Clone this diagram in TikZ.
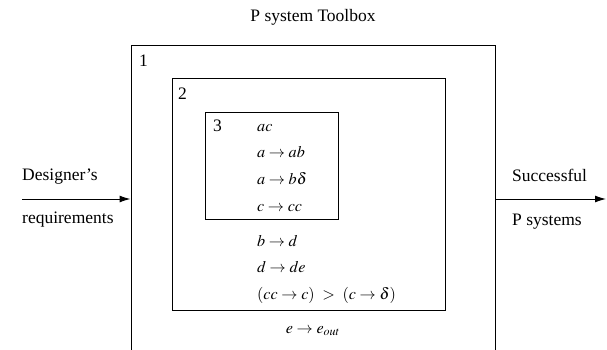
\documentclass[tikz,border=0pt]{standalone}
\usepackage{mathptmx}
\usepackage{fontspec}
\setmainfont{Liberation Serif}
\usetikzlibrary{arrows.meta}
\begin{document}
\begin{tikzpicture}[x=1pt,y=-1pt,
  txt/.style={font=\fontsize{17.5}{21}\selectfont, inner sep=0pt},
  mth/.style={font=\fontsize{16.2}{20}\selectfont, inner sep=0pt},
  boxn/.style={draw, line width=0.9pt, inner sep=0pt},
  flow/.style={line width=1pt, -{Latex[length=11pt,width=7pt]}}]
\clip (0,0) rectangle (607,349);
% boxes
\node[boxn, minimum width=364pt, minimum height=308pt] (box1) at (313,199) {};
\node[boxn, minimum width=273pt, minimum height=232pt] (box2) at (308.5,194) {};
\node[boxn, minimum width=133pt, minimum height=107pt] (box3) at (271.5,165.5) {};
% title
\node[txt, anchor=base] (title) at (313,21) {P system Toolbox};
% membrane labels
\node[txt, anchor=base west] (lab1) at (139,66) {1};
\node[txt, anchor=base west] (lab2) at (178,99) {2};
\node[txt, anchor=base west] (lab3) at (213,131) {3};
% rules in membrane 3
\node[mth, anchor=base west] (r31) at (257,131) {$ac$};
\node[mth, anchor=base west] (r32) at (257,157.5) {$a\rightarrow ab$};
\node[mth, anchor=base west] (r33) at (257,184) {$a\rightarrow b\delta$};
\node[mth, anchor=base west] (r34) at (257,211) {$c\rightarrow cc$};
% rules in membrane 2
\node[mth, anchor=base west] (r21) at (257,246) {$b\rightarrow d$};
\node[mth, anchor=base west] (r22) at (257,272.5) {$d\rightarrow de$};
\node[mth, anchor=base west] (r23) at (257,299) {$(cc\rightarrow c)\ >\ (c\rightarrow \delta)$};
% rule in membrane 1
\node[mth, anchor=base] (r11) at (313,333) {$e\rightarrow e_{out}$};
% input / output
\coordinate (inL) at (22,199);
\coordinate (outR) at (606,199);
\node[txt, anchor=base west] (in1) at (22,180) {Designer’s};
\node[txt, anchor=base west] (in2) at (22,223) {requirements};
\node[txt, anchor=base west] (out1) at (512,181) {Successful};
\node[txt, anchor=base west] (out2) at (512,225) {P systems};
\draw[flow] (inL) -- (box1.west);
\draw[flow] (box1.east) -- (outR);
\end{tikzpicture}
\end{document}
